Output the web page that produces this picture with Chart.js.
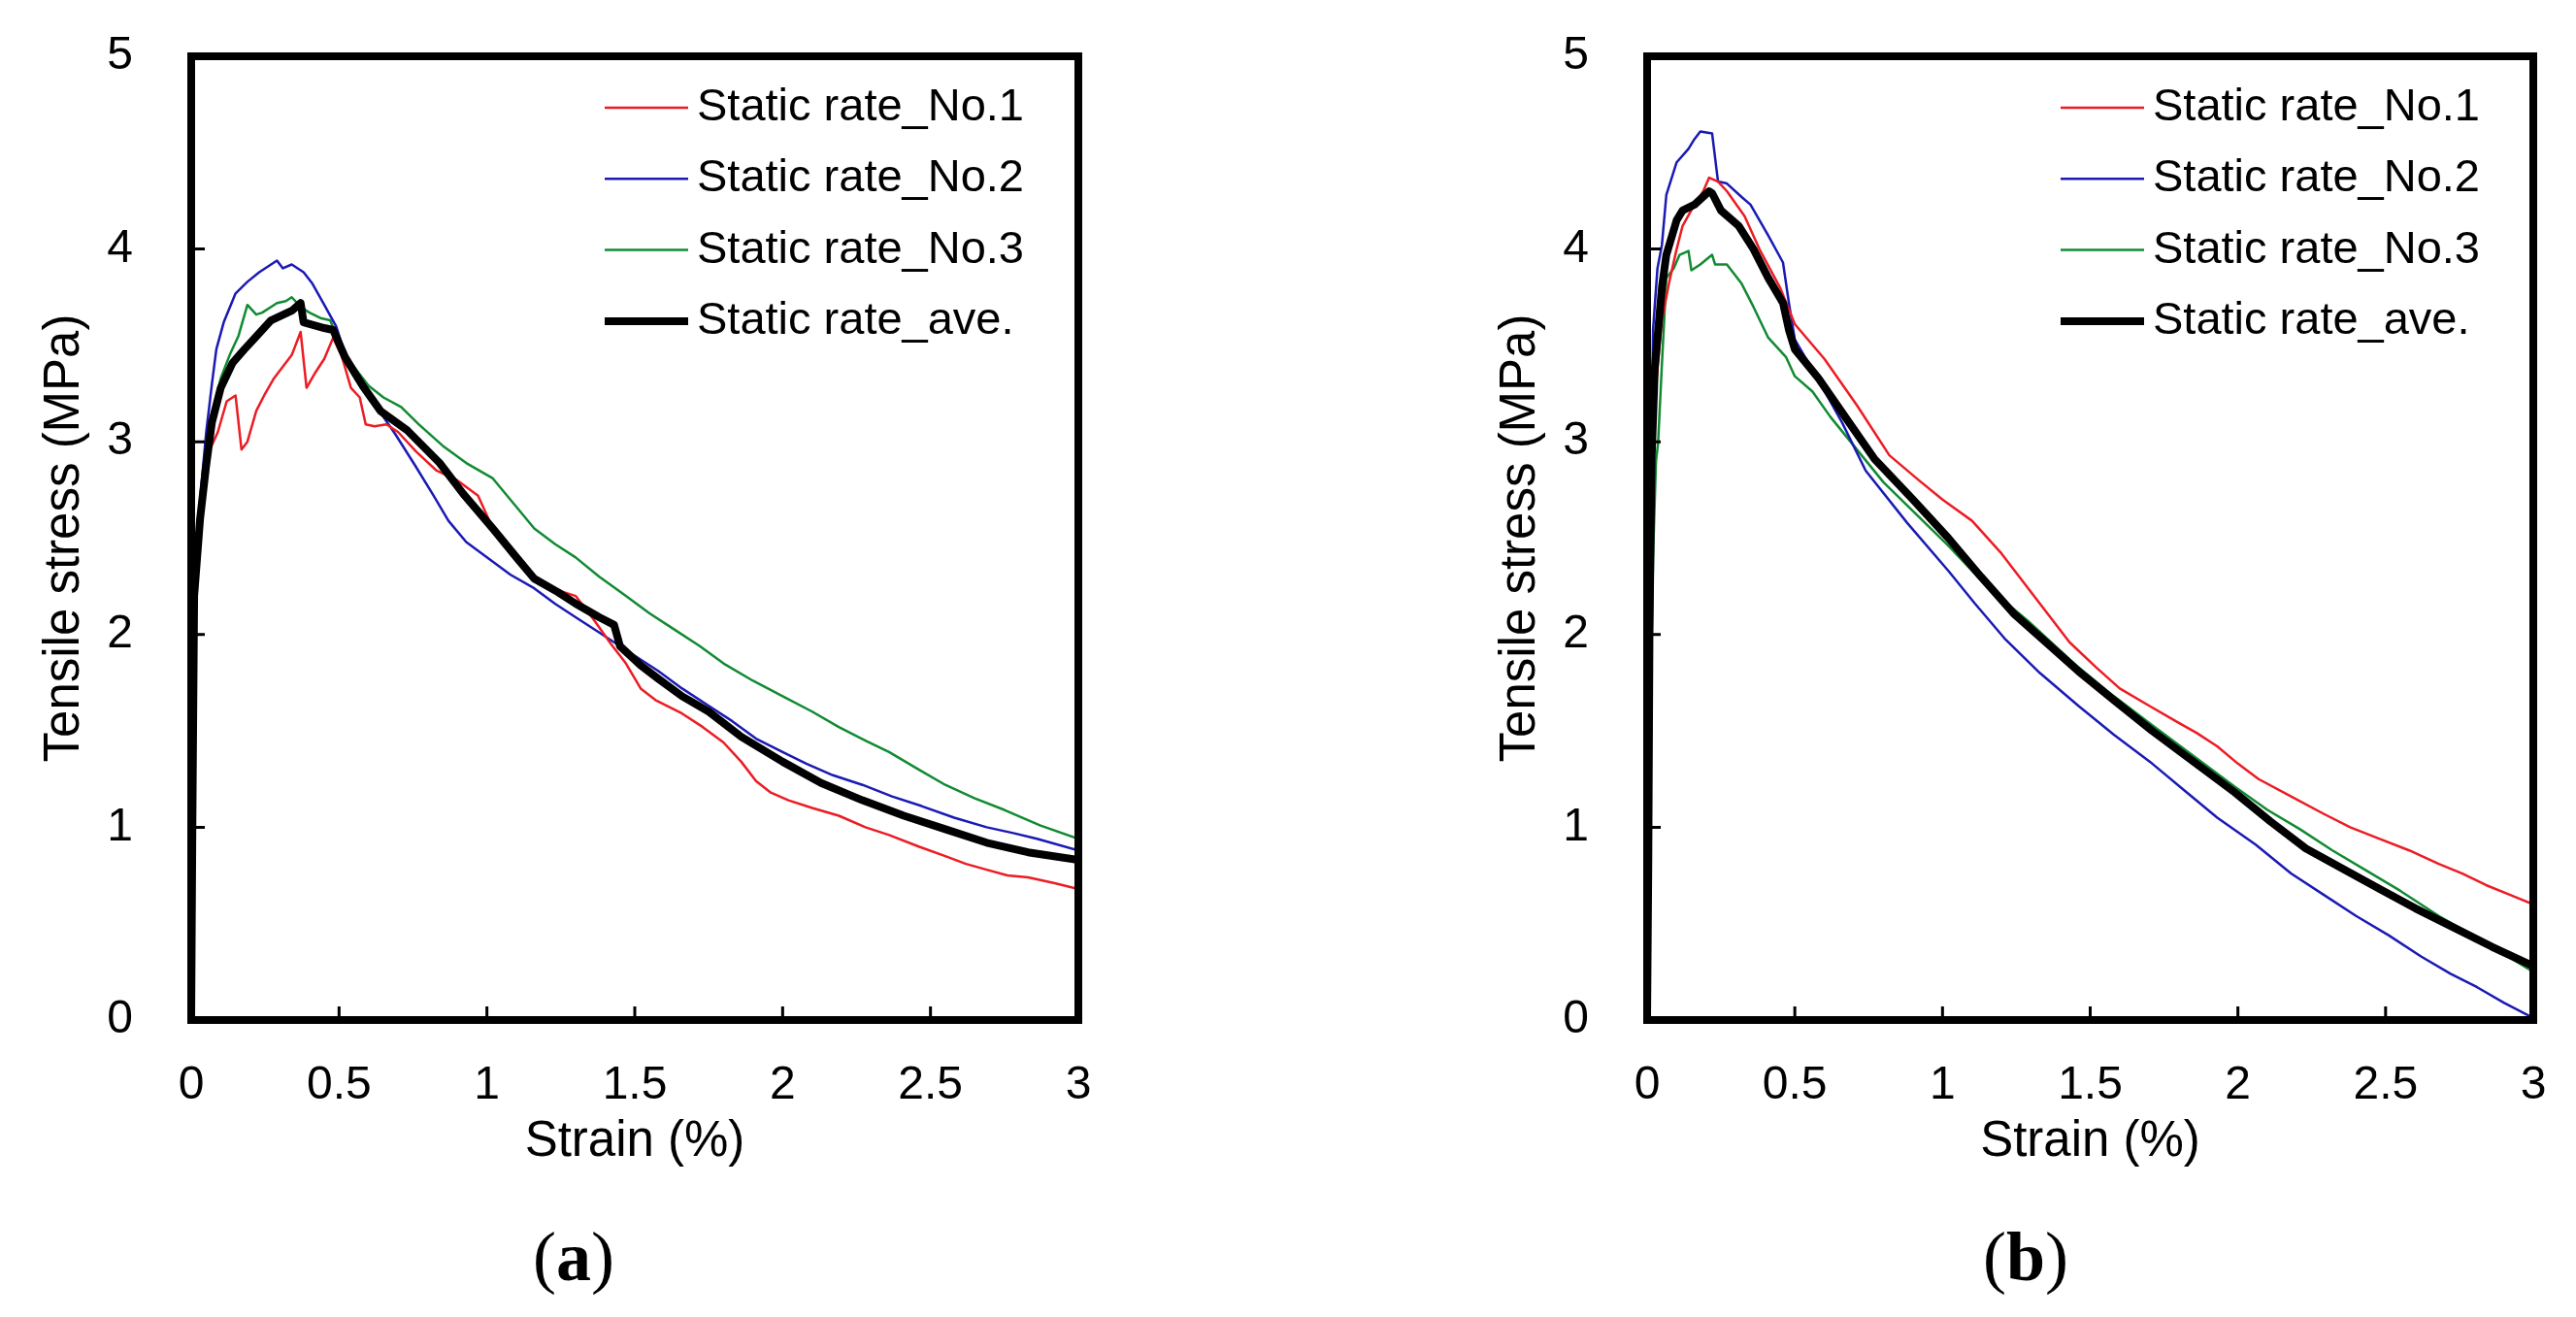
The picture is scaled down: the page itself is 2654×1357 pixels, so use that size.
<!DOCTYPE html>
<html>
<head>
<meta charset="utf-8">
<script src="https://cdn.jsdelivr.net/npm/chart.js@4.4.1/dist/chart.umd.min.js"></script>
<style>
  html, body { margin: 0; padding: 0; background: #fff; }
  body { width: 2654px; height: 1357px; position: relative; overflow: hidden; }
  canvas { position: absolute; top: 0; }
  #chartA { left: 0; }
  #chartB { left: 1500px; }
  .caption { position: absolute; top: 1259px; width: 200px; margin-left: -100px; text-align: center;
    font: 72px "Liberation Serif", "Times New Roman", serif; line-height: 72px; color: #000; }
</style>
</head>
<body>
<canvas id="chartA" width="1200" height="1211"></canvas>
<canvas id="chartB" width="1154" height="1211"></canvas>
<div class="caption" style="left:591px">(<b>a</b>)</div>
<div class="caption" style="left:2087px">(<b>b</b>)</div>
<script>
const legendLabels = ['Static rate_No.1', 'Static rate_No.2', 'Static rate_No.3', 'Static rate_ave.'];
const lineColors = ['#ec1c24', '#1a1ab4', '#118a32', '#000000'];
const lineWidths = [2.5, 2.5, 2.5, 8];
const strainTicks = [0, 0.5, 1, 1.5, 2, 2.5, 3];
const stressTicks = [0, 1, 2, 3, 4, 5];

// (a) strain (%), stress (MPa)
const a_no1 = [[0,0],[0.004,1.2],[0.006,2.6],[0.01,2.2],[0.02,2.45],[0.04,2.7],[0.06,2.95],[0.09,3.05],[0.12,3.21],[0.15,3.24],[0.17,2.96],[0.19,3.0],[0.22,3.16],[0.25,3.25],[0.28,3.33],[0.31,3.39],[0.34,3.45],[0.37,3.57],[0.39,3.28],[0.42,3.36],[0.45,3.43],[0.48,3.54],[0.51,3.44],[0.54,3.28],[0.57,3.23],[0.59,3.09],[0.62,3.08],[0.66,3.09],[0.70,3.05],[0.76,2.95],[0.83,2.85],[0.90,2.80],[0.97,2.72],[1.02,2.55],[1.08,2.42],[1.16,2.29],[1.22,2.24],[1.30,2.20],[1.36,2.08],[1.42,1.95],[1.47,1.85],[1.52,1.72],[1.57,1.66],[1.66,1.59],[1.73,1.52],[1.80,1.44],[1.86,1.34],[1.91,1.24],[1.96,1.18],[2.02,1.14],[2.10,1.10],[2.19,1.06],[2.28,1.00],[2.36,0.96],[2.46,0.90],[2.55,0.85],[2.62,0.81],[2.69,0.78],[2.76,0.75],[2.83,0.74],[2.92,0.71],[3.0,0.68]];
const a_no2 = [[0,0],[0.004,1.5],[0.01,2.2],[0.03,2.7],[0.05,3.04],[0.07,3.3],[0.085,3.48],[0.11,3.62],[0.15,3.77],[0.19,3.83],[0.23,3.88],[0.26,3.91],[0.29,3.94],[0.31,3.9],[0.34,3.92],[0.38,3.88],[0.41,3.82],[0.45,3.71],[0.49,3.6],[0.53,3.41],[0.60,3.24],[0.69,3.04],[0.76,2.87],[0.82,2.72],[0.87,2.59],[0.93,2.48],[1.0,2.40],[1.08,2.31],[1.16,2.24],[1.23,2.16],[1.30,2.09],[1.38,2.01],[1.47,1.92],[1.58,1.81],[1.66,1.72],[1.75,1.63],[1.83,1.55],[1.91,1.46],[2.0,1.39],[2.08,1.33],[2.17,1.27],[2.27,1.22],[2.37,1.16],[2.47,1.11],[2.58,1.05],[2.69,1.0],[2.78,0.97],[2.86,0.94],[3.0,0.88]];
const a_no3 = [[0,0],[0.006,1.8],[0.012,2.3],[0.03,2.55],[0.05,2.96],[0.08,3.2],[0.10,3.33],[0.13,3.45],[0.16,3.55],[0.19,3.71],[0.22,3.66],[0.24,3.67],[0.27,3.70],[0.29,3.72],[0.32,3.73],[0.34,3.75],[0.37,3.70],[0.40,3.67],[0.44,3.64],[0.47,3.63],[0.50,3.52],[0.53,3.43],[0.57,3.35],[0.60,3.29],[0.65,3.23],[0.71,3.18],[0.77,3.09],[0.85,2.98],[0.93,2.89],[1.02,2.81],[1.09,2.68],[1.16,2.55],[1.23,2.47],[1.30,2.40],[1.38,2.30],[1.47,2.20],[1.55,2.11],[1.63,2.03],[1.72,1.94],[1.80,1.85],[1.90,1.76],[2.0,1.68],[2.10,1.60],[2.19,1.52],[2.28,1.45],[2.36,1.39],[2.46,1.30],[2.55,1.22],[2.65,1.15],[2.75,1.09],[2.87,1.01],[3.0,0.94]];
const a_ave = [[0,0],[0.004,1.0],[0.01,2.2],[0.03,2.6],[0.05,2.87],[0.07,3.1],[0.10,3.28],[0.14,3.41],[0.18,3.48],[0.21,3.53],[0.27,3.63],[0.34,3.68],[0.37,3.72],[0.38,3.62],[0.45,3.59],[0.48,3.58],[0.52,3.44],[0.58,3.29],[0.64,3.16],[0.73,3.06],[0.84,2.89],[0.92,2.73],[1.02,2.55],[1.10,2.40],[1.16,2.29],[1.24,2.22],[1.30,2.16],[1.38,2.09],[1.43,2.05],[1.45,1.94],[1.52,1.84],[1.58,1.77],[1.66,1.68],[1.75,1.60],[1.86,1.47],[2.0,1.34],[2.13,1.23],[2.27,1.14],[2.41,1.06],[2.55,0.99],[2.69,0.92],[2.83,0.87],[3.0,0.83]];

// (b)
const b_no1 = [[0,0],[0.004,2.0],[0.008,3.1],[0.015,2.6],[0.03,3.3],[0.05,3.63],[0.075,3.83],[0.10,4.0],[0.12,4.12],[0.16,4.23],[0.19,4.3],[0.21,4.37],[0.24,4.35],[0.27,4.30],[0.33,4.17],[0.38,4.00],[0.45,3.80],[0.50,3.61],[0.60,3.43],[0.71,3.19],[0.82,2.93],[0.92,2.80],[1.0,2.70],[1.10,2.59],[1.20,2.42],[1.29,2.24],[1.36,2.10],[1.43,1.96],[1.52,1.83],[1.60,1.72],[1.70,1.63],[1.79,1.55],[1.86,1.49],[1.93,1.42],[2.0,1.33],[2.07,1.25],[2.18,1.16],[2.29,1.07],[2.38,1.00],[2.48,0.94],[2.58,0.88],[2.68,0.81],[2.76,0.76],[2.84,0.70],[2.92,0.65],[3.0,0.60]];
const b_no2 = [[0,0],[0.004,1.2],[0.01,2.5],[0.02,3.58],[0.035,3.9],[0.05,4.02],[0.065,4.28],[0.10,4.45],[0.14,4.52],[0.16,4.57],[0.18,4.61],[0.22,4.60],[0.24,4.35],[0.27,4.34],[0.32,4.27],[0.35,4.23],[0.41,4.07],[0.46,3.93],[0.48,3.72],[0.50,3.53],[0.58,3.32],[0.66,3.10],[0.74,2.85],[0.88,2.58],[1.02,2.33],[1.11,2.16],[1.21,1.98],[1.33,1.80],[1.46,1.63],[1.58,1.48],[1.71,1.33],[1.82,1.19],[1.93,1.05],[2.06,0.91],[2.18,0.76],[2.29,0.65],[2.40,0.54],[2.51,0.44],[2.62,0.33],[2.72,0.24],[2.81,0.17],[2.90,0.09],[3.0,0.01]];
const b_no3 = [[0,0],[0.006,0.8],[0.012,1.65],[0.02,2.4],[0.03,2.9],[0.037,2.99],[0.05,3.4],[0.065,3.85],[0.09,3.9],[0.11,3.97],[0.14,3.99],[0.15,3.89],[0.18,3.92],[0.22,3.97],[0.23,3.92],[0.27,3.92],[0.32,3.82],[0.36,3.70],[0.41,3.54],[0.47,3.44],[0.50,3.34],[0.56,3.26],[0.62,3.13],[0.71,2.96],[0.80,2.79],[0.90,2.64],[1.02,2.46],[1.15,2.25],[1.29,2.07],[1.46,1.83],[1.58,1.68],[1.71,1.53],[1.85,1.37],[1.99,1.21],[2.10,1.09],[2.21,0.99],[2.32,0.88],[2.43,0.78],[2.55,0.67],[2.68,0.54],[2.84,0.40],[3.0,0.25]];
const b_ave = [[0,0],[0.004,0.8],[0.008,2.0],[0.015,2.9],[0.026,3.38],[0.05,3.8],[0.065,3.97],[0.10,4.15],[0.12,4.20],[0.16,4.23],[0.21,4.30],[0.22,4.29],[0.25,4.20],[0.31,4.12],[0.36,4.0],[0.41,3.85],[0.46,3.72],[0.48,3.58],[0.50,3.48],[0.58,3.33],[0.67,3.13],[0.77,2.91],[0.90,2.70],[1.02,2.50],[1.13,2.30],[1.24,2.11],[1.35,1.96],[1.46,1.81],[1.58,1.66],[1.71,1.50],[1.85,1.34],[1.99,1.18],[2.11,1.03],[2.23,0.89],[2.36,0.78],[2.48,0.68],[2.60,0.58],[2.73,0.48],[2.86,0.38],[3.0,0.28]];

Chart.defaults.font.family = '"Liberation Sans", Arial, sans-serif';
Chart.defaults.color = '#000';

// frame, inward ticks and the legend inside the plot
const framePlugin = {
    id: 'frame',
    afterDatasetsDraw: function (chart) {
        const ctx = chart.ctx;
        const a = chart.chartArea;
        const sx = chart.scales.x, sy = chart.scales.y;
        ctx.save();
        ctx.strokeStyle = '#000';
        ctx.lineWidth = 3;
        ctx.beginPath();
        sx.ticks.forEach(t => {
            if (t.value <= sx.min || t.value >= sx.max) return;
            const px = sx.getPixelForValue(t.value);
            ctx.moveTo(px, a.bottom);
            ctx.lineTo(px, a.bottom - 14);
        });
        sy.ticks.forEach(t => {
            if (t.value <= sy.min || t.value >= sy.max) return;
            const py = sy.getPixelForValue(t.value);
            ctx.moveTo(a.left, py);
            ctx.lineTo(a.left + 14, py);
        });
        ctx.stroke();
        ctx.lineWidth = 8;
        ctx.strokeRect(a.left, a.top, a.right - a.left, a.bottom - a.top);

        ctx.font = '47px "Liberation Sans", Arial, sans-serif';
        ctx.textBaseline = 'middle';
        ctx.fillStyle = '#000';
        chart.data.datasets.forEach((ds, i) => {
            const ly = a.top + 53 + i * 73.3;
            ctx.strokeStyle = ds.borderColor;
            ctx.lineWidth = ds.borderWidth;
            ctx.beginPath();
            ctx.moveTo(a.left + 426, ly);
            ctx.lineTo(a.left + 512, ly);
            ctx.stroke();
            ctx.fillText(ds.label, a.left + 521, ly);
        });
        ctx.restore();
    }
};

// outward tick marks are kept invisible: they only push the labels off the axis
// (ticks.padding would also grow the layout padding of the scale)
const hiddenTicks = len => ({ display: true, drawOnChartArea: false, drawTicks: true, tickLength: len, tickColor: 'rgba(0,0,0,0)' });

function makeChart(id, series, pad) {
    return new Chart(document.getElementById(id), {
        type: 'line',
        data: {
            datasets: series.map((pts, i) => ({
                label: legendLabels[i],
                data: pts.map(p => ({ x: p[0], y: p[1] })),
                borderColor: lineColors[i],
                borderWidth: lineWidths[i],
                pointRadius: 0,
                tension: 0,
                borderJoinStyle: 'round',
                order: i === 3 ? -1 : i
            }))
        },
        options: {
            responsive: false,
            animation: false,
            devicePixelRatio: 1,
            layout: { padding: pad },
            plugins: { legend: { display: false }, tooltip: { enabled: false } },
            scales: {
                x: {
                    type: 'linear', min: 0, max: 3,
                    afterBuildTicks: s => { s.ticks = strainTicks.map(v => ({ value: v })); },
                    afterFit: s => { s.height = 160; },
                    grid: hiddenTicks(39),
                    border: { display: false },
                    ticks: { font: { size: 48 }, padding: 0, maxRotation: 0, autoSkip: false, callback: v => String(v) },
                    title: { display: true, text: 'Strain (%)', font: { size: 51 }, padding: { top: 0, bottom: 3 } }
                },
                y: {
                    type: 'linear', min: 0, max: 5,
                    afterBuildTicks: s => { s.ticks = stressTicks.map(v => ({ value: v })); },
                    afterFit: s => { s.width = 197; },
                    grid: hiddenTicks(60),
                    border: { display: false },
                    ticks: { font: { size: 48 }, padding: 0, callback: v => String(v) },
                    title: { display: true, text: 'Tensile stress (MPa)', font: { size: 51 }, padding: { top: 36, bottom: 0 } }
                }
            }
        },
        plugins: [framePlugin]
    });
}

// rebuild with corrected padding until the plot box sits where the figure has it
function placedChart(id, series, top, right, bottom) {
    const w = document.getElementById(id).width;
    let pad = { top: top, right: w - right, bottom: 0, left: 0 };
    let chart = makeChart(id, series, pad);
    for (let k = 0; k < 3; k++) {
        const a = chart.chartArea;
        const dt = top - a.top, dr = a.right - right, db = a.bottom - bottom;
        if (Math.abs(dt) < 0.5 && Math.abs(dr) < 0.5 && Math.abs(db) < 0.5) break;
        pad = { top: pad.top + dt, right: pad.right + dr, bottom: pad.bottom + db, left: 0 };
        chart.destroy();
        chart = makeChart(id, series, pad);
    }
    return chart;
}

placedChart('chartA', [a_no1, a_no2, a_no3, a_ave], 58, 1111, 1051);
placedChart('chartB', [b_no1, b_no2, b_no3, b_ave], 58, 1110, 1051);
</script>
</body>
</html>
